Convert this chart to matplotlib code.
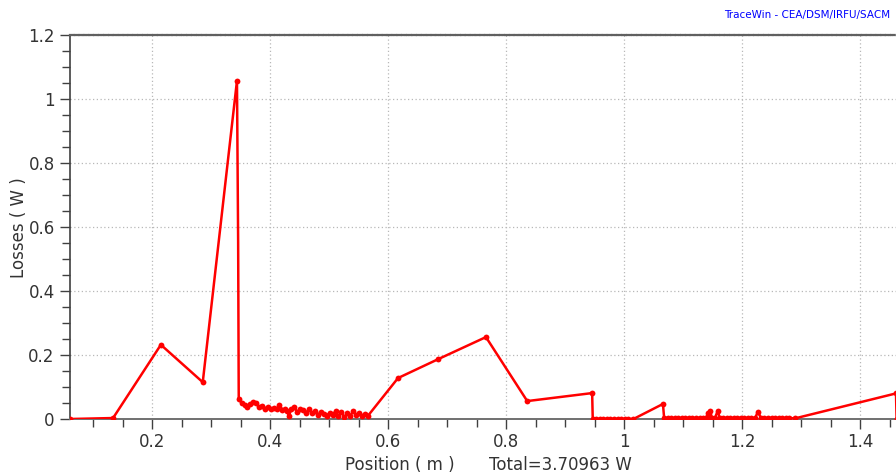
"""Beam losses along the line, TraceWin style plot."""

import matplotlib

matplotlib.use("Agg")
import matplotlib.pyplot as plt
from matplotlib.ticker import MultipleLocator

# ---- loss profile (position in m, losses in W) ----------------------------- #
pos_m = [
    0.061, 0.134, 0.215, 0.286, 0.344, 0.346, 0.347,
    0.352, 0.357, 0.361, 0.366, 0.371, 0.376, 0.381, 0.386, 0.391, 0.396,
    0.401, 0.406, 0.411, 0.416, 0.421, 0.425, 0.429, 0.432, 0.436, 0.441,
    0.446, 0.451, 0.456, 0.461, 0.466, 0.471, 0.476, 0.481, 0.486, 0.491,
    0.496, 0.501, 0.506, 0.511, 0.516, 0.521, 0.526, 0.531, 0.536, 0.541,
    0.546, 0.551, 0.556, 0.561, 0.566,
    0.617, 0.685, 0.766, 0.836, 0.946, 0.947,
    0.953, 0.959, 0.965, 0.971, 0.977, 0.983, 0.989, 0.995, 1.001, 1.007,
    1.016, 1.066, 1.068,
    1.074, 1.080, 1.086, 1.092, 1.098, 1.104, 1.110, 1.116, 1.122, 1.128,
    1.134, 1.139, 1.142, 1.144, 1.146, 1.149, 1.154, 1.159, 1.162, 1.168,
    1.174, 1.180, 1.186, 1.192, 1.198, 1.204, 1.210, 1.216, 1.222, 1.227,
    1.232, 1.238, 1.244, 1.250, 1.256, 1.262, 1.268, 1.274, 1.280, 1.290,
    1.461, 1.462, 1.50,
]
loss_w = [
    0.0, 0.003, 0.232, 0.115, 1.057, 0.55, 0.062,
    0.05, 0.044, 0.038, 0.047, 0.052, 0.05, 0.038, 0.042, 0.032, 0.038,
    0.03, 0.035, 0.03, 0.045, 0.028, 0.03, 0.024, 0.01, 0.03, 0.036,
    0.022, 0.03, 0.028, 0.02, 0.03, 0.018, 0.025, 0.012, 0.022, 0.015,
    0.01, 0.02, 0.014, 0.024, 0.008, 0.022, 0.005, 0.018, 0.01, 0.025,
    0.012, 0.02, 0.008, 0.015, 0.01,
    0.128, 0.187, 0.256, 0.056, 0.081, 0.0,
    0.0, 0.0, 0.0, 0.0, 0.0, 0.0, 0.0, 0.0, 0.0, 0.0,
    0.0, 0.047, 0.003,
    0.003, 0.002, 0.003, 0.003, 0.002, 0.003, 0.003, 0.002, 0.003, 0.003,
    0.002, 0.003, 0.018, 0.003, 0.026, 0.003, 0.003, 0.026, 0.003, 0.002,
    0.003, 0.003, 0.002, 0.003, 0.003, 0.002, 0.003, 0.003, 0.002, 0.023,
    0.003, 0.002, 0.003, 0.003, 0.002, 0.003, 0.003, 0.002, 0.003, 0.002,
    0.08, 0.0, 0.0,
]
total_w = 3.70963

# the intermediate point on the steep drop after the peak carries no marker
marked = [i for i in range(len(pos_m)) if i != 5]

fig = plt.figure(figsize=(8.96, 4.76), dpi=100)
ax = fig.add_axes([70 / 896, 1 - 419 / 476, 826 / 896, 384 / 476])

ax.plot(pos_m, loss_w, color="#ff0000", lw=1.8, marker="o", ms=4.2,
        markeredgewidth=0, markevery=marked, zorder=3)

ax.set_xlim(0.061, 1.461)
ax.set_ylim(0, 1.2)
ax.xaxis.set_major_locator(MultipleLocator(0.2))
ax.xaxis.set_minor_locator(MultipleLocator(0.05))
ax.yaxis.set_major_locator(MultipleLocator(0.2))
ax.yaxis.set_minor_locator(MultipleLocator(0.05))
ax.xaxis.set_major_formatter(lambda v, p: f"{v:g}")
ax.yaxis.set_major_formatter(lambda v, p: f"{v:g}")

ax.grid(True, which="major", color="#b8b8b8", ls=(0, (1, 2)), lw=0.9)
ax.tick_params(which="both", direction="out", colors="#404040",
               labelcolor="#333333", labelsize=12)
ax.tick_params(which="major", length=7, width=1)
ax.tick_params(which="minor", length=5.5, width=1)
ax.tick_params(axis="x", pad=3)
ax.tick_params(axis="y", pad=4)

ax.spines["right"].set_visible(False)
ax.spines["left"].set_color("#404040")
ax.spines["left"].set_linewidth(1.2)
ax.spines["top"].set_color("#606060")
ax.spines["top"].set_linewidth(1.6)
ax.spines["top"].set_linestyle((0, (1.5, 0.7)))
ax.spines["bottom"].set_color("#707070")
ax.spines["bottom"].set_linewidth(1.4)
ax.spines["bottom"].set_linestyle((0, (1, 1)))

fig.text(19 / 896, 1 - 228 / 476, "Losses ( W )", rotation=90, ha="center",
         va="center", fontsize=12, color="#333333")
fig.text(345 / 896, 1 - 465 / 476, "Position ( m )", ha="left", va="center",
         fontsize=12, color="#333333")
fig.text(489 / 896, 1 - 465 / 476, f"Total={total_w} W", ha="left",
         va="center", fontsize=12, color="#333333")
fig.text(890 / 896, 1 - 15 / 476, "TraceWin - CEA/DSM/IRFU/SACM", ha="right",
         va="center", fontsize=7.5, color="#0000ff")

fig.savefig("out.png", dpi=100)
